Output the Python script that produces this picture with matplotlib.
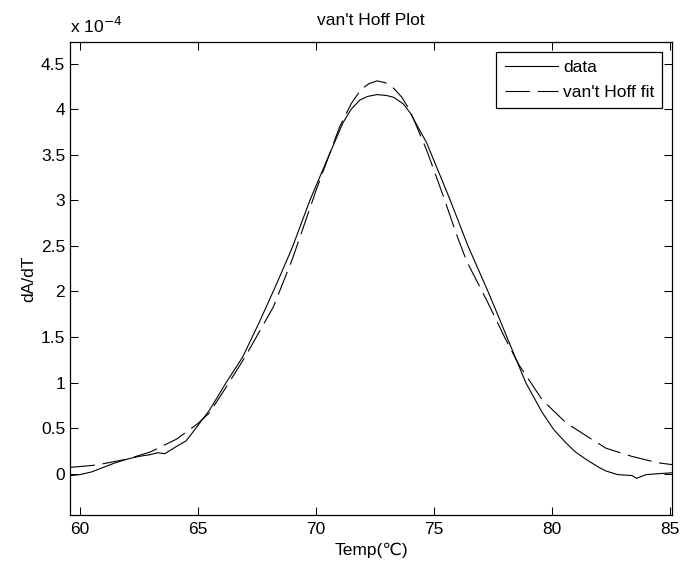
import matplotlib
matplotlib.use("Agg")
import matplotlib.pyplot as plt

plt.rcParams['font.family'] = ['Liberation Sans', 'DejaVu Sans']
plt.rcParams['font.size'] = 12.5

# measured curve (dA/dT in units of 1e-4)
temp_data = [59.6, 60.0, 60.5, 61.0, 61.5, 62.0, 62.5, 63.0, 63.3, 63.6, 64.1, 64.5, 64.8,
             65.5, 66.2, 66.9, 67.6, 68.35, 69.0, 69.75, 70.47, 71.15, 71.5, 71.87, 72.2,
             72.6, 73.0, 73.3, 73.7, 74.0, 74.7, 75.4, 75.7, 76.45, 77.3, 77.8, 78.1,
             78.9, 79.6, 80.1, 80.6, 81.0, 81.5, 82.0, 82.3, 82.8, 83.4, 83.6, 84.0,
             84.5, 85.1]
dAdT_data = [-0.02, -0.01, 0.02, 0.07, 0.12, 0.16, 0.19, 0.21, 0.23, 0.22, 0.30, 0.36, 0.46,
             0.70, 1.00, 1.28, 1.66, 2.09, 2.48, 3.00, 3.44, 3.85, 4.00, 4.10, 4.14,
             4.16, 4.15, 4.13, 4.06, 3.96, 3.63, 3.19, 3.00, 2.50, 2.00, 1.69, 1.50,
             1.00, 0.67, 0.48, 0.34, 0.24, 0.15, 0.07, 0.03, -0.01, -0.02, -0.05, -0.01,
             0.00, 0.01]

# van't Hoff fit (units of 1e-4)
temp_fit = [59.6, 60.5, 61.0, 62.0, 63.0, 64.1, 65.0, 65.5, 66.2, 67.0, 68.2, 69.0,
            70.0, 71.0, 71.5, 71.9, 72.25, 72.6, 72.95, 73.3, 73.65, 74.0, 74.7, 75.4,
            76.0, 76.4, 77.25, 78.0, 78.6, 79.6, 80.6, 81.5, 82.3, 83.4, 84.5, 85.1]
dAdT_fit = [0.07, 0.09, 0.11, 0.16, 0.24, 0.38, 0.55, 0.67, 0.95, 1.28, 1.83, 2.35,
            3.10, 3.80, 4.06, 4.21, 4.28, 4.31, 4.29, 4.23, 4.13, 3.98, 3.55, 3.05,
            2.60, 2.33, 1.90, 1.50, 1.20, 0.81, 0.56, 0.41, 0.28, 0.19, 0.12, 0.10]

fig = plt.figure(figsize=(6.8, 5.65), dpi=100)
ax = fig.add_axes([70/680, 1 - 515/565, (672 - 70)/680, (515 - 42)/565])

ax.plot(temp_data, dAdT_data, color='k', lw=0.8, label='data')
ax.plot(temp_fit, dAdT_fit, color='k', lw=0.8, linestyle=(0, (22, 7)), label="van't Hoff fit")

ax.set_xlim(59.58, 85.1)
ax.set_ylim(-0.453, 4.737)
ax.set_xticks([60, 65, 70, 75, 80, 85])
ax.set_yticks([0, 0.5, 1, 1.5, 2, 2.5, 3, 3.5, 4, 4.5])
ax.set_yticklabels(['0', '0.5', '1', '1.5', '2', '2.5', '3', '3.5', '4', '4.5'])
ax.tick_params(direction='in', top=True, right=True, length=5.5, width=0.75)
ax.tick_params(axis='x', pad=5)
ax.tick_params(axis='y', pad=3.5)
for sp in ax.spines.values():
    sp.set_linewidth(0.9)

ax.set_title("van't Hoff Plot", fontsize=12.5, pad=12)
ax.set_xlabel('Temp(℃)', labelpad=4)
ax.set_ylabel('dA/dT', labelpad=3)
ax.text(0.0, 1.012, r'x 10$^{-4}$', transform=ax.transAxes, ha='left', va='bottom')

leg = ax.legend(loc='upper right', fancybox=False, framealpha=1, edgecolor='k',
                handlelength=3.05, borderpad=0.48, labelspacing=0.55, handletextpad=0.3,
                borderaxespad=0.55)
leg.get_frame().set_linewidth(0.9)

fig.savefig('out.png', dpi=100)
